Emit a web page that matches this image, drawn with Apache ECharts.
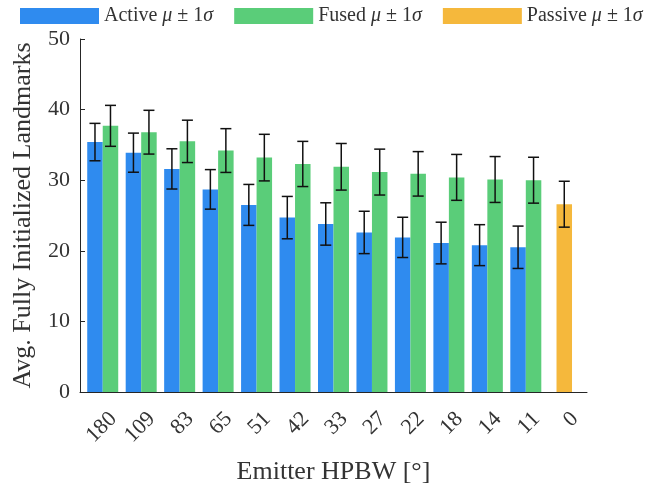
<!DOCTYPE html>
<html>
<head>
<meta charset="utf-8">
<script src="https://cdn.jsdelivr.net/npm/echarts@6/dist/echarts.min.js"></script>
<style>html,body{margin:0;padding:0;background:#fff;}#c{width:661px;height:484px;}</style>
</head>
<body>
<div id="c"></div>
<script>
const categories = ['180','109','83','65','51','42','33','27','22','18','14','11','0'];
const activeMean = [35.4, 33.9, 31.6, 28.7, 26.5, 24.7, 23.8, 22.6, 21.9, 21.1, 20.8, 20.5, null];
const activeStd  = [2.65, 2.77, 2.85, 2.8, 2.9, 3.0, 3.0, 3.0, 2.85, 2.95, 2.9, 3.0, null];
const fusedMean  = [37.7, 36.8, 35.5, 34.2, 33.2, 32.3, 31.9, 31.15, 30.9, 30.4, 30.1, 30.0, null];
const fusedStd   = [2.9, 3.1, 3.0, 3.1, 3.3, 3.2, 3.3, 3.25, 3.15, 3.25, 3.25, 3.25, null];
const passiveMean = [null, null, null, null, null, null, null, null, null, null, null, null, 26.6];
const passiveStd  = [null, null, null, null, null, null, null, null, null, null, null, null, 3.25];
const yTicks = [0, 10, 20, 30, 40, 50];

const FONT = '"Liberation Serif", "DejaVu Serif", serif';
const BAR_W = 15.5;
const COLORS = {active: '#2F8BEF', fused: '#5ACD79', passive: '#F5B83C'};
const AXIS_COLOR = '#262626';
const TEXT_COLOR = '#333';

function errData(mean, std) {
  const out = [];
  mean.forEach((m, i) => { if (m != null) out.push([i, m - std[i], m + std[i]]); });
  return out;
}
function errSeries(mean, std, offset) {
  return {
    type: 'custom',
    xAxisIndex: 0, yAxisIndex: 0,
    silent: true, z: 10,
    data: errData(mean, std),
    renderItem: function (params, api) {
      const x = api.coord([api.value(0), 0])[0] + offset;
      const yl = api.coord([api.value(0), api.value(1)])[1];
      const yh = api.coord([api.value(0), api.value(2)])[1];
      const cap = 5.5;
      const st = {stroke: '#111', lineWidth: 1.5};
      return {type: 'group', children: [
        {type: 'line', shape: {x1: x, y1: yl, x2: x, y2: yh}, style: st},
        {type: 'line', shape: {x1: x - cap, y1: yh, x2: x + cap, y2: yh}, style: st},
        {type: 'line', shape: {x1: x - cap, y1: yl, x2: x + cap, y2: yl}, style: st}
      ]};
    }
  };
}

const legendRich = {
  n: {fontFamily: FONT, fontSize: 20, color: TEXT_COLOR},
  m: {fontFamily: FONT, fontSize: 20, fontStyle: 'italic', color: TEXT_COLOR}
};

const chart = echarts.init(document.getElementById('c'), null, {renderer: 'canvas'});
chart.setOption({
  animation: false,
  backgroundColor: '#fff',
  legend: {
    data: ['Active', 'Fused', 'Passive'],
    left: 15, top: 1,
    itemWidth: 79, itemHeight: 16, itemGap: 21,
    icon: 'rect',
    formatter: function (name) { return '{n|' + name + '} {m|μ} {n|± 1}{m|σ}'; },
    textStyle: {rich: legendRich, fontFamily: FONT, fontSize: 20}
  },
  grid: [
    {left: 83.5, right: 77.5, top: 39, bottom: 92, containLabel: false, outerBoundsMode: 'none'},
    {left: 80, right: 74, top: 39, bottom: 92, containLabel: false, outerBoundsMode: 'none'}
  ],
  xAxis: [
    {
      gridIndex: 0, type: 'category', data: categories,
      axisLine: {show: false},
      axisTick: {show: false},
      axisLabel: {rotate: 45, margin: 13, interval: 0, verticalAlign: 'top', padding: [4, 0, 0, 0],
        fontFamily: FONT, fontSize: 22, color: TEXT_COLOR},
      splitLine: {show: false}
    },
    {
      gridIndex: 0, type: 'category', data: categories, show: false
    },
    {
      gridIndex: 1, type: 'value', min: 0, max: 1,
      name: 'Emitter HPBW [°]',
      nameLocation: 'middle',
      nameGap: 67,
      nameTextStyle: {fontFamily: FONT, fontSize: 26, color: TEXT_COLOR},
      axisLine: {show: true, onZero: false, lineStyle: {color: AXIS_COLOR, width: 1}},
      axisTick: {show: false},
      axisLabel: {show: false},
      splitLine: {show: false}
    }
  ],
  yAxis: [
    {
      gridIndex: 0, type: 'value', min: 0, max: 50, interval: 10, show: false
    },
    {
      gridIndex: 1, type: 'value',
      min: 0, max: 50, interval: 10,
      name: 'Avg. Fully Initialized Landmarks',
      nameLocation: 'middle',
      nameGap: 44,
      nameTextStyle: {fontFamily: FONT, fontSize: 26, color: TEXT_COLOR},
      axisLine: {show: true, lineStyle: {color: AXIS_COLOR, width: 1}},
      axisTick: {show: true, inside: true, length: 5, lineStyle: {color: AXIS_COLOR}},
      axisLabel: {margin: 10, fontFamily: FONT, fontSize: 22, color: TEXT_COLOR,
        formatter: function (v) { return yTicks.indexOf(v) >= 0 ? String(v) : ''; }},
      splitLine: {show: false}
    }
  ],
  series: [
    {name: 'Active', type: 'bar', xAxisIndex: 0, yAxisIndex: 0, data: activeMean, barWidth: BAR_W, barGap: '0%',
     itemStyle: {color: COLORS.active}},
    {name: 'Fused', type: 'bar', xAxisIndex: 0, yAxisIndex: 0, data: fusedMean, barWidth: BAR_W, barGap: '0%',
     itemStyle: {color: COLORS.fused}},
    {name: 'Passive', type: 'bar', xAxisIndex: 1, yAxisIndex: 0, data: passiveMean, barWidth: BAR_W,
     itemStyle: {color: COLORS.passive}},
    errSeries(activeMean, activeStd, -BAR_W / 2),
    errSeries(fusedMean, fusedStd, BAR_W / 2),
    errSeries(passiveMean, passiveStd, 0)
  ]
});
</script>
</body>
</html>
